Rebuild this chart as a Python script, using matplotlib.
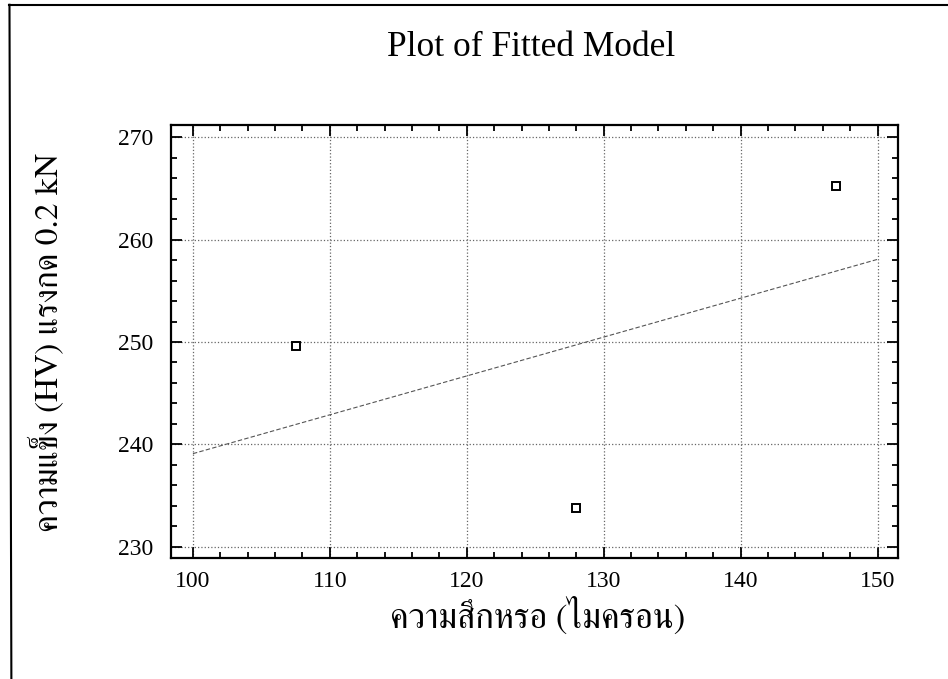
import numpy as np
import matplotlib.pyplot as plt
from matplotlib.lines import Line2D
from matplotlib.ticker import MultipleLocator

wear_um = [107.5, 128.0, 147.0]
hardness_hv = [249.6, 233.8, 265.2]

x_ticks = [100, 110, 120, 130, 140, 150]
y_ticks = [230, 240, 250, 260, 270]

title = 'Plot of Fitted Model'
x_label = 'ความสึกหรอ (ไมครอน)'
y_label = 'ความแข็ง (HV) แรงกด 0.2 kN'

serif = ['FreeSerif', 'Liberation Serif', 'DejaVu Sans']

# simple linear model through the points
slope, intercept = np.polyfit(wear_um, hardness_hv, 1)
fit_x = np.array([100, 150])
fit_y = slope * fit_x + intercept

fig = plt.figure(figsize=(9.48, 6.79), dpi=100)
ax = fig.add_axes([0.1804, 0.1782, 0.7669, 0.6377])

ax.grid(True, which='major', linestyle=':', color='#666666', linewidth=0.9)
ax.plot(fit_x, fit_y, linestyle=(0, (4, 2)), color='#555555', linewidth=0.8)
ax.plot(wear_um, hardness_hv, linestyle='none', marker='s', markersize=6,
        markerfacecolor='white', markeredgecolor='black', markeredgewidth=1.4)

ax.set_xlim(98.4, 151.5)
ax.set_ylim(228.9, 271.2)
ax.set_xticks(x_ticks)
ax.set_yticks(y_ticks)
ax.xaxis.set_minor_locator(MultipleLocator(2))
ax.yaxis.set_minor_locator(MultipleLocator(2))
ax.tick_params(which='both', direction='in', top=True, right=True, width=1.3)
ax.tick_params(which='major', length=8)
ax.tick_params(which='minor', length=4)
ax.tick_params(axis='y', which='major', pad=13)
ax.tick_params(axis='x', which='major', pad=9)
for lbl in ax.get_xticklabels() + ax.get_yticklabels():
    lbl.set_fontfamily('Liberation Serif')
    lbl.set_fontsize(17)
for s in ax.spines.values():
    s.set_linewidth(1.6)

fig.text(0.56, 0.93, title, ha='center', va='center',
         fontsize=25.5, family='Liberation Serif')
fig.text(0.567, 0.092, x_label, ha='center', va='center',
         fontsize=25, family=serif)
fig.text(0.05, 0.495, y_label, ha='center', va='center', rotation=90,
         fontsize=24, family=serif)

# edges of the scanned page frame (top and left only)
fig.add_artist(Line2D([0.010, 1.0], [0.993, 0.993], transform=fig.transFigure,
                      color='black', linewidth=1.5))
fig.add_artist(Line2D([0.010, 0.012], [0.993, 0.0], transform=fig.transFigure,
                      color='black', linewidth=1.5))

fig.savefig('out.png', dpi=100)
